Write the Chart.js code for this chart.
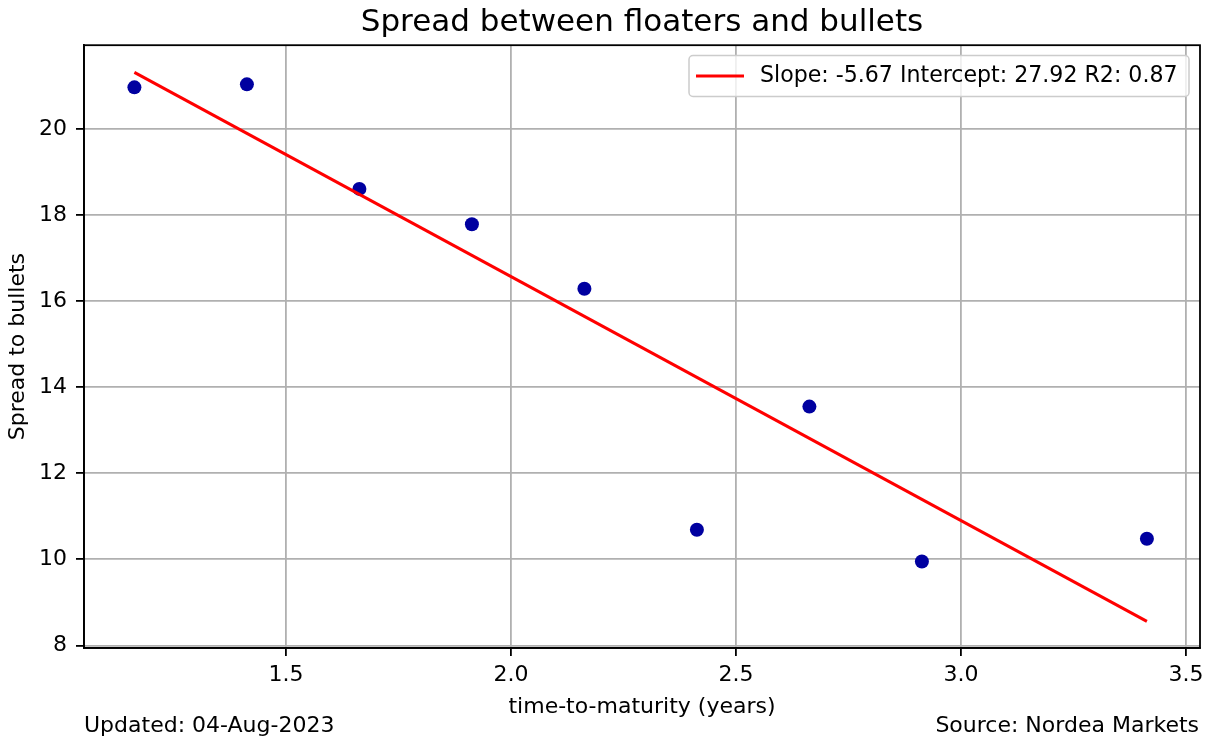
<!DOCTYPE html>
<html>
<head>
<meta charset="utf-8">
<script src="https://cdn.jsdelivr.net/npm/chart.js@4/dist/chart.umd.min.js"></script>
<style>
  html, body { margin: 0; padding: 0; background: #fff; }
</style>
</head>
<body>
<canvas id="spread-chart" width="1212" height="747"></canvas>
<script>
const maturities = [1.163, 1.413, 1.663, 1.913, 2.163, 2.413, 2.663, 2.913, 3.413];
const spreads = [20.97, 21.04, 18.61, 17.79, 16.29, 10.69, 13.55, 9.95, 10.48];
const fitX = [1.163, 3.413];
const fitY = [21.32, 8.56];
const xTicks = [1.5, 2.0, 2.5, 3.0, 3.5];
const yTicks = [8, 10, 12, 14, 16, 18, 20];
const fitLabel = 'Slope: -5.67 Intercept: 27.92 R2: 0.87';
const footerLeft = 'Updated: 04-Aug-2023';
const footerRight = 'Source: Nordea Markets';

const FONT = "'DejaVu Sans', sans-serif";

// top/right spines, legend box and footer, matplotlib style
const extras = {
    id: 'extras',
    afterDatasetsDraw(chart) {
        const ctx = chart.ctx;
        const a = chart.chartArea;
        ctx.save();
        ctx.strokeStyle = '#000';
        ctx.lineWidth = 1.8;
        ctx.strokeRect(a.left, a.top, a.right - a.left, a.bottom - a.top);

        // legend
        const bx = 689, by = 55.5, bw = 500, bh = 41;
        ctx.beginPath();
        ctx.roundRect(bx, by, bw, bh, 4);
        ctx.fillStyle = 'rgba(255,255,255,0.8)';
        ctx.fill();
        ctx.strokeStyle = '#cccccc';
        ctx.lineWidth = 1.5;
        ctx.stroke();
        ctx.beginPath();
        ctx.moveTo(696, 76);
        ctx.lineTo(744, 76);
        ctx.strokeStyle = 'red';
        ctx.lineWidth = 3;
        ctx.stroke();
        ctx.fillStyle = '#000';
        ctx.font = '22.1px ' + FONT;
        ctx.textBaseline = 'middle';
        ctx.textAlign = 'left';
        ctx.fillText(chart.data.datasets[0].label, 760, 76);

        // footer
        ctx.font = '22px ' + FONT;
        ctx.fillText(footerLeft, 84, 726);
        ctx.textAlign = 'right';
        ctx.fillText(footerRight, 1199, 726);
        ctx.restore();
    }
};

var ctx = document.getElementById('spread-chart').getContext('2d');
new Chart(ctx, {
    type: 'scatter',
    data: {
        datasets: [{
            label: fitLabel,
            data: fitX.map((x, i) => ({ x: x, y: fitY[i] })),
            showLine: true,
            borderColor: 'red',
            borderWidth: 3,
            pointRadius: 0,
            order: 0
        }, {
            label: 'Spread',
            data: maturities.map((x, i) => ({ x: x, y: spreads[i] })),
            backgroundColor: '#0000a0',
            borderWidth: 0,
            pointRadius: 7,
            order: 1
        }]
    },
    options: {
        responsive: false,
        animation: false,
        layout: { padding: { left: 0, right: 12, top: 0, bottom: 0 } },
        plugins: {
            legend: { display: false },
            tooltip: { enabled: false },
            title: {
                display: true,
                fullSize: false,
                text: 'Spread between floaters and bullets',
                color: '#000',
                font: { family: FONT, size: 31, weight: 'normal' },
                padding: { top: 4, bottom: 4 }
            }
        },
        scales: {
            x: {
                type: 'linear',
                min: 1.051,
                max: 3.531,
                afterBuildTicks: s => { s.ticks = xTicks.map(v => ({ value: v })); },
                afterFit: s => { s.height = 99; },
                ticks: {
                    color: '#000',
                    font: { family: FONT, size: 22 },
                    padding: 6,
                    callback: v => Number(v).toFixed(1)
                },
                grid: { color: '#b0b0b0', lineWidth: 1.8, tickColor: '#000', tickLength: 8, tickWidth: 1.8 },
                border: { color: '#000', width: 1.8 },
                title: {
                    display: true,
                    text: 'time-to-maturity (years)',
                    color: '#000',
                    font: { family: FONT, size: 22 },
                    padding: { top: 0, bottom: 27 }
                }
            },
            y: {
                type: 'linear',
                min: 7.94,
                max: 21.95,
                afterBuildTicks: s => { s.ticks = yTicks.map(v => ({ value: v })); },
                afterFit: s => { s.width = 84; },
                ticks: {
                    color: '#000',
                    font: { family: FONT, size: 22 },
                    padding: 9
                },
                grid: { color: '#b0b0b0', lineWidth: 1.8, tickColor: '#000', tickLength: 8, tickWidth: 1.8 },
                border: { color: '#000', width: 1.8 },
                title: {
                    display: true,
                    text: 'Spread to bullets',
                    color: '#000',
                    font: { family: FONT, size: 22 },
                    padding: { top: 5, bottom: 0 }
                }
            }
        }
    },
    plugins: [extras]
});
</script>
</body>
</html>
